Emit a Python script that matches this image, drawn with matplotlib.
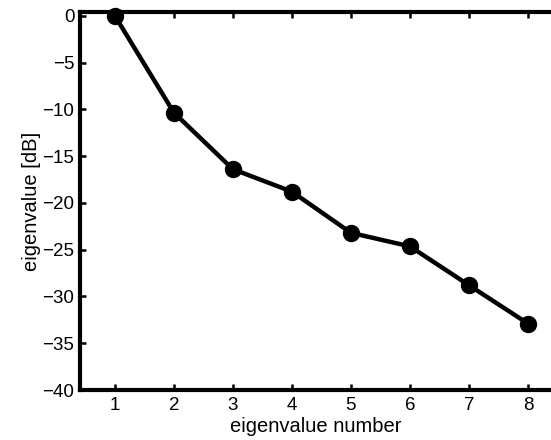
import numpy as np
import matplotlib
matplotlib.use('Agg')
import matplotlib.pyplot as plt

# Data
eig_number = [1, 2, 3, 4, 5, 6, 7, 8]
eig_db = [0.0, -10.35, -16.4, -18.8, -23.2, -24.65, -28.8, -32.9]
x_ticks = [1, 2, 3, 4, 5, 6, 7, 8]
y_ticks = [0, -5, -10, -15, -20, -25, -30, -35, -40]

plt.rcParams['font.family'] = ['Liberation Sans', 'DejaVu Sans']

fig = plt.figure(figsize=(5.51, 4.40), dpi=100)
ax = fig.add_axes([80 / 551, 50 / 440, (551 - 80) / 551, (390 - 12) / 440])

ax.plot(eig_number, eig_db, color='black', linewidth=3.2,
        marker='o', markersize=11.5, clip_on=False)

ax.set_xlim(0.41, 8.39)
ax.set_ylim(-40, 0.4)
ax.set_xticks(x_ticks)
ax.set_yticks(y_ticks)
ax.tick_params(direction='in', length=4, width=1.8, labelsize=13.5,
               top=True)
ax.tick_params(axis='x', pad=5)
ax.tick_params(axis='y', pad=4)

for side in ['left', 'bottom', 'top']:
    ax.spines[side].set_linewidth(3)
ax.spines['right'].set_visible(False)

ax.set_xlabel('eigenvalue number', fontsize=14.5, labelpad=2)
ax.set_ylabel('eigenvalue [dB]', fontsize=14.5, labelpad=1)

fig.savefig('out.png', dpi=100)
